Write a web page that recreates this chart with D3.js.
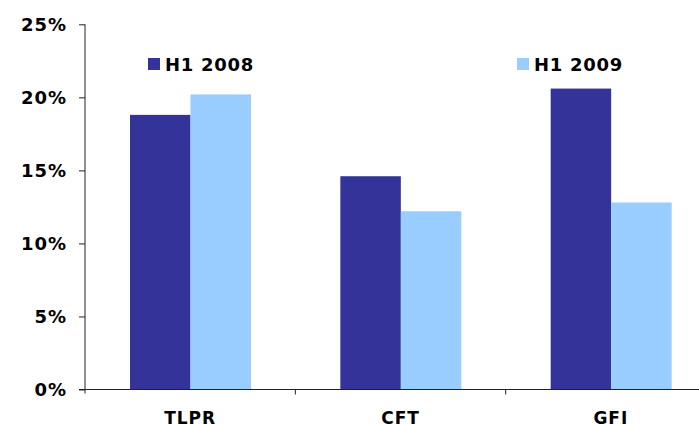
<!DOCTYPE html>
<html>
<head>
<meta charset="utf-8">
<script src="https://cdn.jsdelivr.net/npm/d3@7"></script>
<style>
  html, body { margin: 0; padding: 0; background: #fff; }
  svg { display: block; }
  text { font-family: "DejaVu Sans", Verdana, sans-serif; font-weight: bold; fill: #000; }
</style>
</head>
<body>
<svg id="chart" width="699" height="425"></svg>
<script>
// Return-on-equity style comparison, first half of 2008 vs 2009
const categories = ["TLPR", "CFT", "GFI"];
const seriesNames = ["H1 2008", "H1 2009"];
const h1_2008 = [18.8, 14.6, 20.6];
const h1_2009 = [20.2, 12.2, 12.8];
const yTicks = [0, 5, 10, 15, 20, 25];
const colors = ["#333399", "#99CCFF"];

const svg = d3.select("#chart");
const plotLeft = 85, plotRight = 716, plotTop = 24.3, plotBottom = 389.5;

const x = d3.scaleBand().domain(categories).range([plotLeft, plotRight]);
const inner = d3.scaleBand().domain(seriesNames).range([0, 121]);
const y = d3.scaleLinear().domain([0, 25]).range([plotBottom, plotTop]);

const series = [h1_2008, h1_2009];

// bars
seriesNames.forEach((name, si) => {
  svg.append("g").selectAll("rect")
    .data(categories.map((c, i) => ({ c, v: series[si][i] })))
    .join("rect")
    .attr("x", d => x(d.c) + 45 + inner(name))
    .attr("width", inner.bandwidth())
    .attr("y", d => y(d.v))
    .attr("height", d => y(0) - y(d.v))
    .attr("fill", colors[si]);
});

// y axis
const yAxis = svg.append("g")
  .attr("transform", `translate(${plotLeft},0)`)
  .call(d3.axisLeft(y).tickValues(yTicks).tickSize(6).tickPadding(12).tickFormat(d => d + "%"));
yAxis.select(".domain").attr("d", `M0,${plotTop}V${plotBottom + 4}`).attr("stroke", "#222");
yAxis.selectAll(".tick line").attr("stroke", "#222");
yAxis.selectAll("text")
  .attr("font-size", 18).attr("letter-spacing", "1px")
  .attr("font-family", "DejaVu Sans").attr("font-weight", "bold").attr("fill", "#000");

// x axis
const xAxis = svg.append("g")
  .attr("transform", `translate(0,${plotBottom})`)
  .call(d3.axisBottom(x).tickSize(0).tickPadding(22));
xAxis.select(".domain").attr("d", `M${plotLeft - 6},0H${plotRight}`).attr("stroke", "#222");
xAxis.selectAll("text")
  .attr("font-size", 17).attr("letter-spacing", "1px")
  .attr("font-family", "DejaVu Sans").attr("font-weight", "bold").attr("fill", "#000");
// category separators below the axis
svg.append("g").selectAll("line")
  .data(categories.slice(1))
  .join("line")
  .attr("x1", d => x(d)).attr("x2", d => x(d))
  .attr("y1", plotBottom).attr("y2", plotBottom + 5)
  .attr("stroke", "#222");

// legend
const legendPos = [[148, 58], [517, 58]];
seriesNames.forEach((name, i) => {
  const [lx, ly] = legendPos[i];
  svg.append("rect").attr("x", lx).attr("y", ly).attr("width", 12).attr("height", 12).attr("fill", colors[i]);
  svg.append("text").attr("x", lx + 17).attr("y", ly + 12.5)
    .attr("font-size", 18).attr("letter-spacing", "0.7px").text(name);
});
</script>
</body>
</html>
